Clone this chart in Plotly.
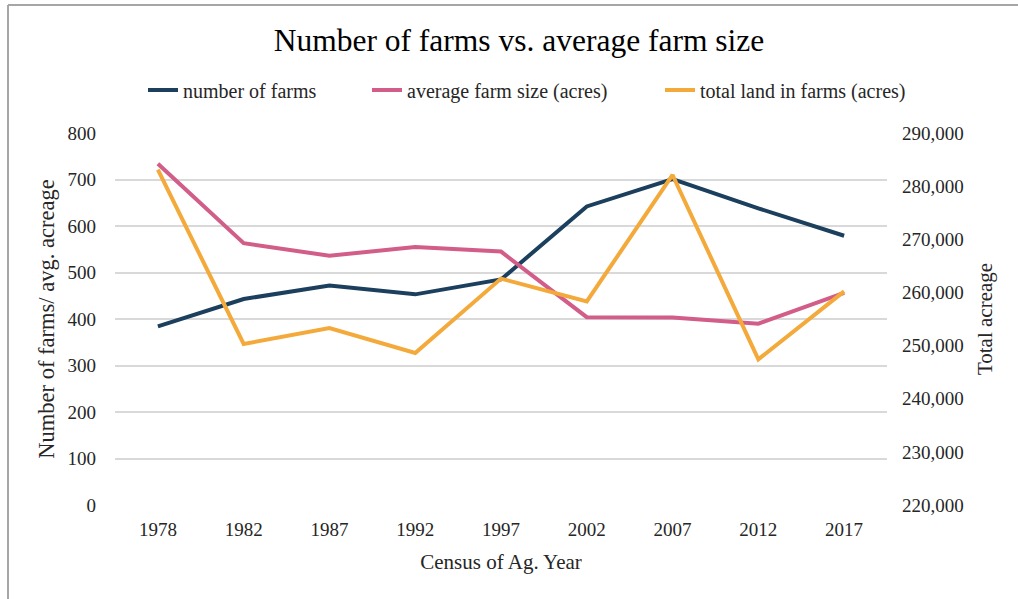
import plotly.graph_objects as go

# Census of Agriculture years
years = ["1978", "1982", "1987", "1992", "1997", "2002", "2007", "2012", "2017"]

# Left axis series
number_of_farms = [384, 443, 472, 453, 485, 642, 701, 638, 579]
avg_farm_size = [734, 563, 536, 555, 545, 404, 403, 390, 456]

# Right axis series
total_land = [283100, 250300, 253300, 248600, 262600, 258300, 282100, 247400, 260200]

series_names = ["number of farms", "average farm size (acres)", "total land in farms (acres)"]

NAVY = "#1b3f5d"
PINK = "#d15d88"
ORANGE = "#f4a93b"
GRID = "#d9d9d9"
TEXT = "#262626"
FONT = "Liberation Serif"

W, H = 1018, 599
L, R, T, B = 115, 131, 133, 94
PW, PH = W - L - R, H - T - B


def px_x(x):
    return (x - L) / PW


def px_y(y):
    return (H - B - y) / PH


fig = go.Figure()
fig.add_trace(go.Scatter(x=years, y=number_of_farms, name=series_names[0],
                         mode="lines", line=dict(color=NAVY, width=4), legend="legend",
                         showlegend=True))
fig.add_trace(go.Scatter(x=years, y=avg_farm_size, name=series_names[1],
                         mode="lines", line=dict(color=PINK, width=4), legend="legend2",
                         showlegend=True))
fig.add_trace(go.Scatter(x=years, y=total_land, name=series_names[2],
                         mode="lines", line=dict(color=ORANGE, width=4), yaxis="y2",
                         legend="legend3", showlegend=True))

# outer chart frame (top and left edges)
frame = dict(color="#a6a6a6", width=2)
fig.add_shape(type="line", xref="paper", yref="paper",
              x0=px_x(8), x1=px_x(W + 20), y0=px_y(5), y1=px_y(5), line=frame)
fig.add_shape(type="line", xref="paper", yref="paper",
              x0=px_x(8), x1=px_x(8), y0=px_y(5), y1=px_y(H + 20), line=frame)


def legend_at(x_px):
    return dict(orientation="h", xref="container", x=x_px / W, xanchor="left",
                yref="container", y=1 - 90 / H, yanchor="middle",
                font=dict(family=FONT, size=20, color=TEXT),
                bgcolor="rgba(0,0,0,0)", itemwidth=30, visible=True)


fig.update_layout(
    template="none",
    showlegend=True,
    width=W, height=H,
    margin=dict(l=L, r=R, t=T, b=B),
    paper_bgcolor="white", plot_bgcolor="white",
    font=dict(family=FONT, color=TEXT, size=19),
    title=dict(text="Number of farms vs. average farm size",
               font=dict(family=FONT, size=31.5, color="#000000"),
               xref="container", x=519 / W, xanchor="center",
               yref="container", y=1 - 40 / H, yanchor="middle"),
    legend=legend_at(143),
    legend2=legend_at(367),
    legend3=legend_at(660),
    xaxis=dict(type="category", range=[-0.5, 8.5], showgrid=False, zeroline=False,
               showline=False, ticks="", ticklabelstandoff=11,
               tickfont=dict(family=FONT, size=19),
               title=dict(text="Census of Ag. Year", font=dict(family=FONT, size=21),
                          standoff=15)),
    yaxis=dict(range=[0, 800], dtick=100, showgrid=True, gridcolor=GRID, gridwidth=2,
               zeroline=False, showline=False, ticks="", ticklabelstandoff=18,
               tickfont=dict(family=FONT, size=19),
               title=dict(text="Number of farms/ avg. acreage",
                          font=dict(family=FONT, size=22.5), standoff=6)),
    yaxis2=dict(range=[220000, 290000], dtick=10000, overlaying="y", side="right",
                showgrid=False, zeroline=False, showline=False, ticks="",
                tickformat=",", ticklabelstandoff=14, tickfont=dict(family=FONT, size=19),
                title=dict(text="Total acreage", font=dict(family=FONT, size=21),
                           standoff=14)),
)

fig.write_html("out.html")
